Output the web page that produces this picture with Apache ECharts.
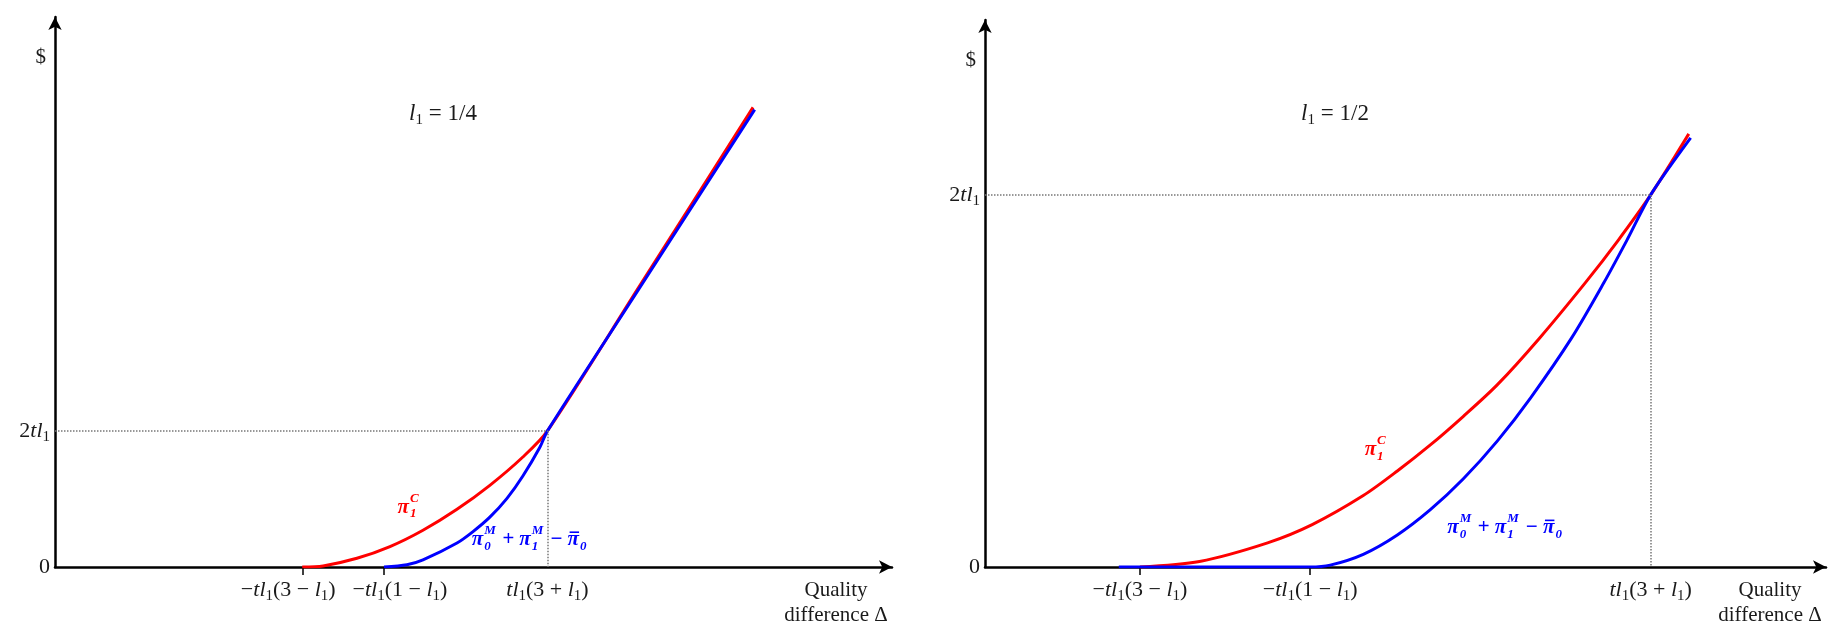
<!DOCTYPE html>
<html><head><meta charset="utf-8">
<script src="https://cdn.jsdelivr.net/npm/echarts@6/dist/echarts.min.js"></script>
<style>html,body{margin:0;padding:0;background:#fff}#c{width:1833px;height:623px}</style>
</head><body><div id="c"></div>
<script>
// ---------- data (units: t = 1) ----------
const tickLabels = ['−tl₁(3 − l₁)', '−tl₁(1 − l₁)', 'tl₁(3 + l₁)'];
const yTickLabels = ['0', '2tl₁'];
const panelTitles = ['l₁ = 1/4', 'l₁ = 1/2'];

// left panel, l1 = 1/4
const leftTicks = [-0.6875, -0.1875, 0.8125];
const leftYTicks = [0, 0.5];
const leftRed = [[-0.6875,0],[-0.56,0.004],[-0.353,0.032],[-0.151,0.075],[0.051,0.135],[0.259,0.212],[0.46,0.3],[0.662,0.404],[0.8125,0.5],[1.36,1.017],[2.07,1.688]];
const leftBlue = [[-0.1875,0],[-0.047,0.008],[0.051,0.026],[0.259,0.088],[0.357,0.13],[0.46,0.183],[0.565,0.252],[0.662,0.334],[0.766,0.44],[0.8125,0.5],[1.36,1.01],[2.08,1.68]];

// right panel, l1 = 1/2
const rightTicks = [-1.25, -0.25, 1.75];
const rightYTicks = [0, 1];
const rightRed = [[-1.25,0],[-0.9,0.015],[-0.5,0.065],[-0.238,0.114],[0.062,0.192],[0.262,0.258],[0.456,0.328],[0.65,0.405],[0.85,0.49],[1.097,0.615],[1.368,0.765],[1.556,0.876],[1.75,1.0],[1.974,1.164]];
const rightBlue = [[-1.374,0],[-0.25,0],[-0.132,0.005],[0.062,0.034],[0.262,0.086],[0.456,0.154],[0.65,0.237],[0.85,0.339],[1.044,0.454],[1.285,0.615],[1.474,0.763],[1.615,0.882],[1.75,1.0],[1.985,1.153]];

// ---------- styling / layout ----------
const SERIF = '"Liberation Serif", "DejaVu Serif", serif';
const RED = '#ff0000', BLUE = '#0000ff', INK = '#1a1a1a';
const FS = 22;
const W = 1833;

function richify(s) {
  return s.replace(/[tl]/g, m => '{i|' + m + '}').replace(/₁/g, '{s|1}');
}
function makeRich(fs) {
  return {
    i: { fontStyle: 'italic', fontFamily: SERIF, fontSize: fs, color: INK, lineHeight: fs + 6 },
    s: { fontFamily: SERIF, fontSize: Math.round(fs * 0.66), color: INK, lineHeight: Math.round(fs * 0.66), verticalAlign: 'bottom' }
  };
}
const rich = makeRich(FS);
const titleRich = makeRich(23);

const panels = [
  { ticks: leftTicks, yTicks: leftYTicks, red: leftRed, blue: leftBlue,
    grid: { left: 55, right: W - 892, top: 17, bottom: 56 }, xMin: -2.2, xMax: 2.92, yMax: 2.02,
    labelShiftPx: [-14, 16, 0] },
  { ticks: rightTicks, yTicks: rightYTicks, red: rightRed, blue: rightBlue,
    grid: { left: 985, right: 7, top: 20, bottom: 56 }, xMin: -2.16, xMax: 2.78, yMax: 1.47,
    labelShiftPx: [0, 0, 0] }
];
panels.forEach(p => {
  const pxPerUnit = (W - p.grid.left - p.grid.right) / (p.xMax - p.xMin);
  p.labelAt = p.ticks.map((t, k) => t + p.labelShiftPx[k] / pxPerUnit);
});

const option = {
  animation: false,
  backgroundColor: '#fff',
  grid: panels.map(p => Object.assign({ containLabel: false, outerBoundsMode: 'none' }, p.grid)),
  title: panels.map((p, i) => ({
    text: richify(panelTitles[i]),
    left: i === 0 ? 438 : 1330, top: 94, textAlign: 'center',
    textStyle: { fontFamily: SERIF, fontSize: 23, fontWeight: 'normal', color: INK, lineHeight: 29, rich: titleRich }
  })),
  xAxis: panels.map((p, i) => ({
    type: 'value', gridIndex: i, min: p.xMin, max: p.xMax,
    splitLine: { show: false },
    axisLine: { onZero: false, lineStyle: { color: '#000', width: 2.5 }, symbol: ['none', 'arrow'], symbolSize: [10, 13] },
    axisTick: { show: true, customValues: p.ticks.slice(0, 2), length: 8, lineStyle: { color: '#000', width: 1.5 } },
    axisLabel: {
      customValues: p.labelAt, margin: 9, hideOverlap: false,
      fontFamily: SERIF, fontSize: FS, color: INK, lineHeight: FS + 6, rich: rich,
      formatter: v => {
        const k = p.labelAt.findIndex(t => Math.abs(t - v) < 1e-6);
        return k < 0 ? '' : richify(tickLabels[k]);
      }
    },
    name: 'Quality\ndifference Δ', nameLocation: 'end', nameGap: -56,
    nameTextStyle: { fontFamily: SERIF, fontSize: 21, color: INK, align: 'center', verticalAlign: 'top', lineHeight: 25, padding: [11, 0, 0, 0] }
  })),
  yAxis: panels.map((p, i) => ({
    type: 'value', gridIndex: i, min: 0, max: p.yMax,
    splitLine: { show: false },
    axisLine: { show: true, onZero: false, lineStyle: { color: '#000', width: 2.5 }, symbol: ['none', 'arrow'], symbolSize: [10, 13] },
    axisTick: { show: false },
    axisLabel: {
      customValues: p.yTicks, margin: 5, showMinLabel: true, showMaxLabel: true,
      fontFamily: SERIF, fontSize: FS, color: INK, lineHeight: FS + 6, rich: rich,
      formatter: v => {
        const k = p.yTicks.findIndex(t => Math.abs(t - v) < 1e-6);
        return k < 0 ? '' : richify(yTickLabels[k]);
      }
    },
    name: '$', nameLocation: 'end', nameGap: -40,
    nameTextStyle: { fontFamily: SERIF, fontSize: 21, color: INK, align: 'right', verticalAlign: 'middle', padding: [0, 9, 0, 0] }
  })),
  series: []
};

panels.forEach((p, i) => {
  const kx = p.ticks[2], ky = p.yTicks[1];
  option.series.push({
    type: 'line', xAxisIndex: i, yAxisIndex: i, data: p.red, showSymbol: false, symbol: 'none',
    smooth: 0.3, lineStyle: { color: RED, width: 3 }, z: 3,
    markLine: {
      silent: true, symbol: 'none', label: { show: false },
      lineStyle: { type: 'dotted', color: '#777', width: 1.5 },
      data: [
        [{ coord: [p.xMin, ky] }, { coord: [kx, ky] }],
        [{ coord: [kx, ky] }, { coord: [kx, 0] }]
      ]
    }
  });
  option.series.push({
    type: 'line', xAxisIndex: i, yAxisIndex: i, data: p.blue, showSymbol: false, symbol: 'none',
    smooth: 0.3, lineStyle: { color: BLUE, width: 3 }, z: 4
  });
});

const chart = echarts.init(document.getElementById('c'), null, { renderer: 'canvas' });
chart.setOption(option);

// ---------- stacked super/subscript curve labels ----------
const ctx = document.createElement('canvas').getContext('2d');
function tw(text, font) { ctx.font = font; return ctx.measureText(text).width; }
function mathLabel(tokens, px, color, size) {
  const bf = 'italic bold ' + size + 'px ' + SERIF;
  const ss = Math.round(size * 0.64);
  const sf = 'italic bold ' + ss + 'px ' + SERIF;
  const kids = [];
  let x = 0;
  tokens.forEach(tk => {
    const bw = tw(tk.b, bf);
    kids.push({ type: 'text', x: x, y: 0, style: { text: tk.b, font: bf, fill: color, verticalAlign: 'middle' } });
    if (tk.bar) {
      kids.push({ type: 'line', shape: { x1: x + 2, y1: -size * 0.36, x2: x + bw, y2: -size * 0.36 }, style: { stroke: color, lineWidth: 1.6 } });
    }
    x += bw;
    let w2 = 0;
    if (tk.sup) { kids.push({ type: 'text', x: x + 1, y: -size * 0.42, style: { text: tk.sup, font: sf, fill: color, verticalAlign: 'middle' } }); w2 = Math.max(w2, tw(tk.sup, sf)); }
    if (tk.sub) { kids.push({ type: 'text', x: x + 1, y: size * 0.32, style: { text: tk.sub, font: sf, fill: color, verticalAlign: 'middle' } }); w2 = Math.max(w2, tw(tk.sub, sf)); }
    x += w2 + (w2 ? 2 : 0);
  });
  return { type: 'group', x: px[0], y: px[1], children: kids, silent: true };
}
const redTokens = [{ b: 'π', sup: 'C', sub: '1' }];
const blueTokens = [{ b: 'π', sup: 'M', sub: '0' }, { b: ' + ' }, { b: 'π', sup: 'M', sub: '1' }, { b: ' − ' }, { b: 'π', bar: true, sub: '0' }];
// label anchors (data coords of each label's left-middle point)
const labelAnchors = [
  { red: [-0.105, 0.22], blue: [0.35, 0.1] },
  { red: [0.07, 0.315], blue: [0.555, 0.105] }
];
const gfx = [];
labelAnchors.forEach((a, i) => {
  gfx.push(mathLabel(redTokens, chart.convertToPixel({ gridIndex: i }, a.red), RED, 21));
  gfx.push(mathLabel(blueTokens, chart.convertToPixel({ gridIndex: i }, a.blue), BLUE, 21));
});
chart.setOption({ graphic: gfx });
</script></body></html>
